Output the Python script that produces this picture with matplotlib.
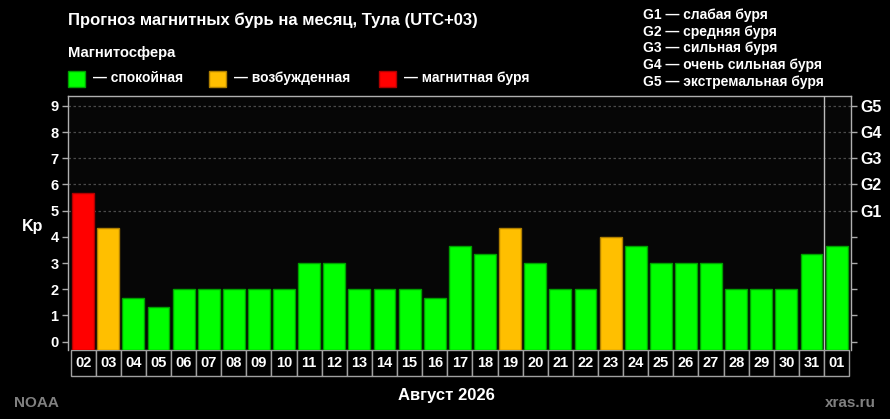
import numpy as np
import matplotlib
matplotlib.use("Agg")
import matplotlib.pyplot as plt
from matplotlib.patches import Rectangle
import matplotlib.transforms as mtransforms

plt.rcParams['font.family'] = ['Liberation Sans', 'DejaVu Sans']
plt.rcParams['font.weight'] = 'bold'

# data
days = ['02', '03', '04', '05', '06', '07', '08', '09', '10', '11', '12',
        '13', '14', '15', '16', '17', '18', '19', '20', '21', '22', '23',
        '24', '25', '26', '27', '28', '29', '30', '31', '01']
kp = [5.67, 4.33, 1.67, 1.33, 2, 2, 2, 2, 2, 3, 3,
      2, 2, 2, 1.67, 3.67, 3.33, 4.33, 3, 2, 2, 4,
      3.67, 3, 3, 3, 2, 2, 2, 3.33, 3.67]
storm_labels = ['G1', 'G2', 'G3', 'G4', 'G5']
storm_levels = [5, 6, 7, 8, 9]
storm_desc = ['G1 — слабая буря', 'G2 — средняя буря', 'G3 — сильная буря',
              'G4 — очень сильная буря', 'G5 — экстремальная буря']
legend_names = ['— спокойная', '— возбужденная', '— магнитная буря']
legend_colors = ['#00ff00', '#ffbf00', '#ff0000']
legend_edges = ['#00a000', '#b08000', '#b00000']

W, H = 890, 419
fig = plt.figure(figsize=(W / 100, H / 100), dpi=100, facecolor='black')
ax = fig.add_axes([68.3 / W, 1 - 350 / H, (850.7 - 68.3) / W, (350 - 95.7) / H])
ax.set_facecolor('#060606')

ymin, ymax = -0.32, 9.39
x = np.arange(len(days))
cols, edges = [], []
for v in kp:
    k = 2 if v >= 5 else (1 if v >= 4 else 0)
    cols.append(legend_colors[k])
    edges.append(legend_edges[k])
ax.bar(x, np.array(kp) - ymin, bottom=ymin, width=0.87, color=cols,
       edgecolor=edges, linewidth=1, zorder=3)

for lv in storm_levels:
    ax.axhline(lv, color='#4a4a4a', linestyle=(0, (2, 2)), linewidth=0.9, zorder=1)
ax.axvline(len(days) - 1.5, color='#bbbbbb', linewidth=1, zorder=4)

ax.set_xlim(-0.59, len(days) - 0.44)
ax.set_ylim(ymin, ymax)
ax.set_xticks([])
ax.set_yticks(range(10))
ax.tick_params(axis='y', colors='#aaaaaa', length=4, width=1, labelsize=10.5,
               labelcolor='white', pad=3)
for lab in ax.get_yticklabels():
    lab.set_fontweight('bold')
for s in ['left', 'top', 'right']:
    ax.spines[s].set_color('#b0b0b0')
    ax.spines[s].set_linewidth(1)
ax.spines['bottom'].set_visible(False)

ax2 = ax.twinx()
ax2.set_ylim(ymin, ymax)
ax2.set_yticks(range(10))
ax2.set_yticklabels(['' if i not in storm_levels else storm_labels[storm_levels.index(i)]
                     for i in range(10)])
ax2.tick_params(axis='y', colors='#aaaaaa', length=4, width=1, labelsize=11.5,
                labelcolor='white', pad=3)
for lab in ax2.get_yticklabels():
    lab.set_fontweight('bold')
for s in ['left', 'top', 'right', 'bottom']:
    ax2.spines[s].set_visible(False)

# day label boxes
trans = mtransforms.blended_transform_factory(ax.transData, ax.transAxes)
bh = 25.7 / (350 - 95.7)
for i, d in enumerate(days):
    ax.add_patch(Rectangle((i - 0.5, -bh), 1.0, bh, transform=trans, clip_on=False,
                           facecolor='black', edgecolor='#a0a0a0', linewidth=1))
    ax.text(i, -bh / 2, d, transform=trans, ha='center', va='center',
            color='white', fontsize=10.5, fontweight='bold', clip_on=False)

ax.text(33 / W, 1 - 226 / H, 'Kp', transform=fig.transFigure, ha='center',
        va='center', color='white', fontsize=11.5, fontweight='bold')

fig.text(68 / W, 1 - 20 / H, 'Прогноз магнитных бурь на месяц, Тула (UTC+03)',
         color='white', fontsize=12, fontweight='bold', va='center')
fig.text(68 / W, 1 - 53 / H, 'Магнитосфера', color='white', fontsize=10.7,
         fontweight='bold', va='center')
sq_x = [68, 209, 379]
for sx, nm, c, e in zip(sq_x, legend_names, legend_colors, legend_edges):
    fig.patches.append(Rectangle((sx / W, 1 - 87 / H), 17 / W, 16 / H,
                                 transform=fig.transFigure, facecolor=c,
                                 edgecolor=e, linewidth=1))
    fig.text((sx + 25) / W, 1 - 78 / H, nm, color='white', fontsize=10,
             fontweight='bold', va='center')

for j, t in enumerate(storm_desc):
    fig.text(643 / W, 1 - (15 + 16.7 * j) / H, t, color='white', fontsize=10,
             fontweight='bold', va='center')

fig.text(446 / W, 1 - 395 / H, 'Август 2026', color='white', fontsize=12,
         fontweight='bold', ha='center', va='center')
fig.text(14 / W, 1 - 403 / H, 'NOAA', color='#808080', fontsize=11,
         fontweight='bold', va='center')
fig.text(876 / W, 1 - 403 / H, 'xras.ru', color='#808080', fontsize=11,
         fontweight='bold', ha='right', va='center')

fig.savefig('out.png', dpi=100, facecolor='black')
